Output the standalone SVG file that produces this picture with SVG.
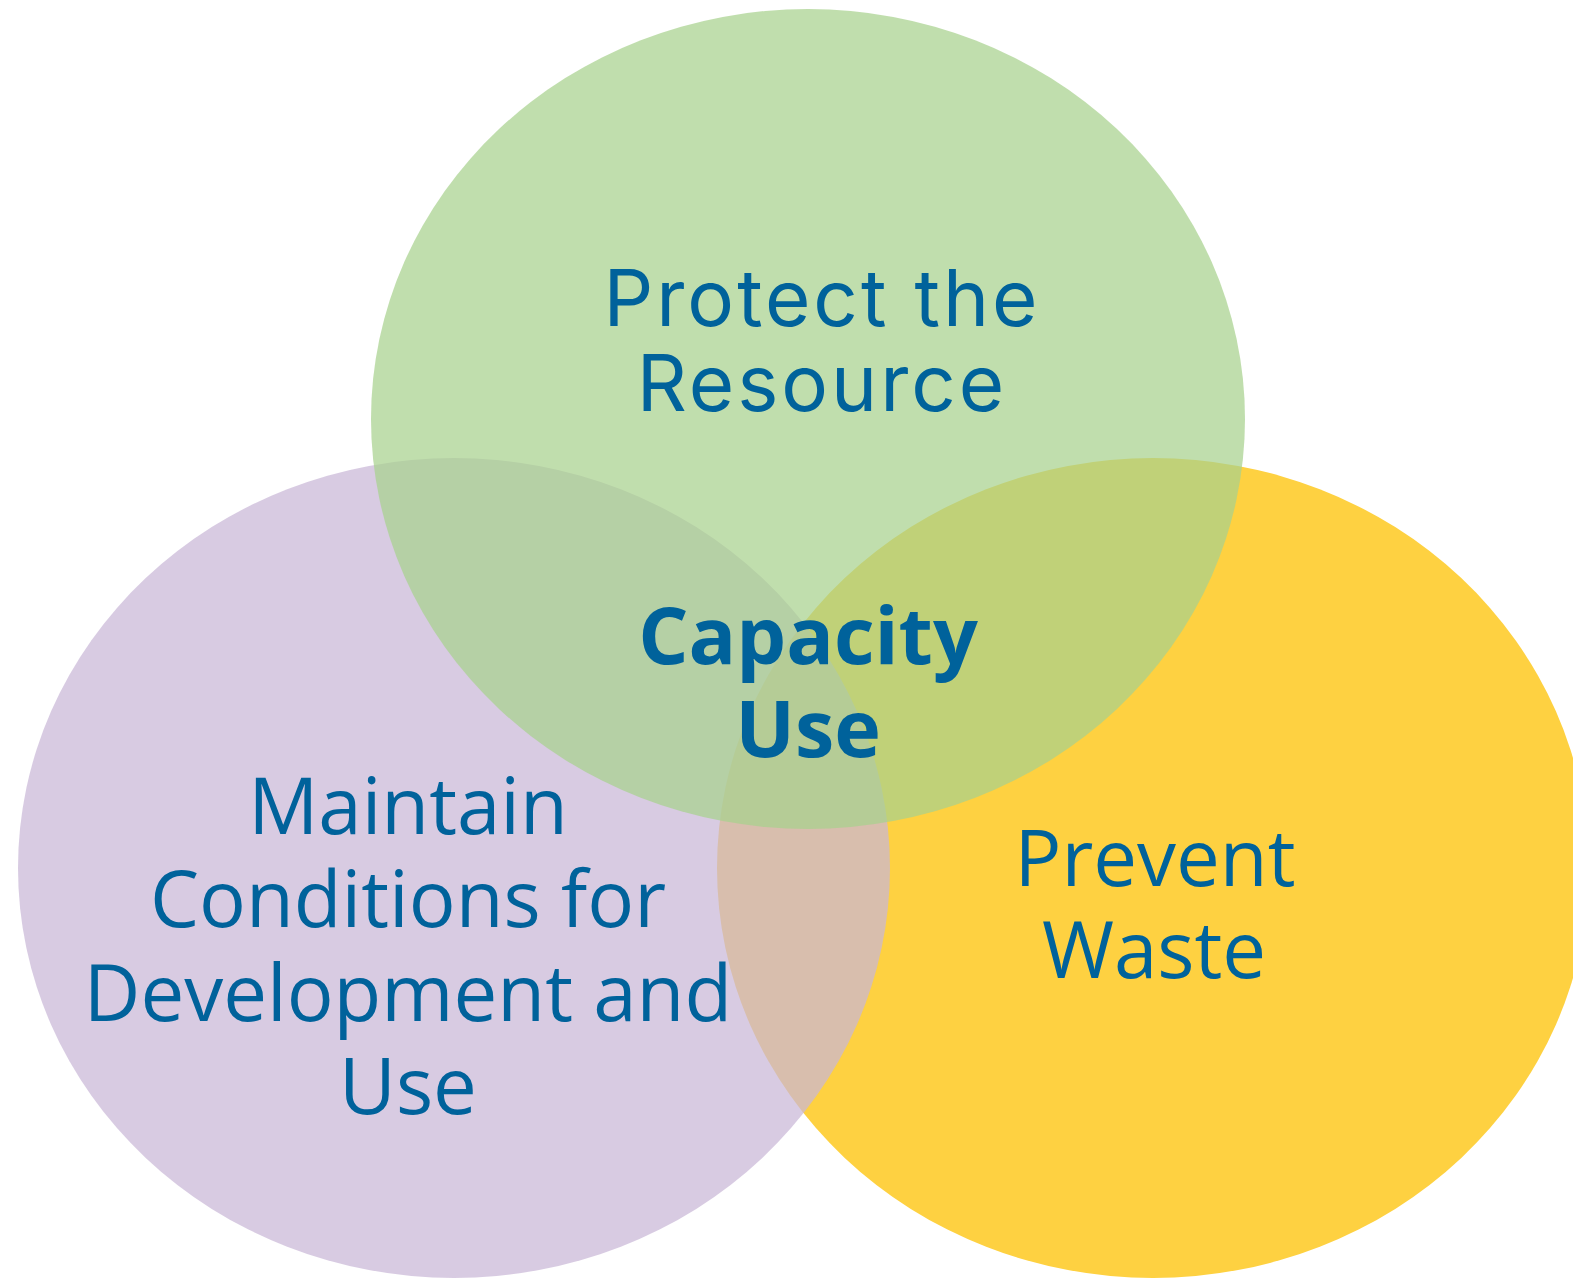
<svg xmlns="http://www.w3.org/2000/svg" width="1573" height="1278" viewBox="0 0 1573 1278">
<style>
.lbl{fill:#00629b;text-anchor:middle}
.os{font-family:"Open Sans","Noto Sans",sans-serif;font-size:78px}
.mt{font-family:Inter,"Open Sans",sans-serif;font-size:78px;font-weight:400;letter-spacing:3px}
.bold{font-family:"Open Sans","Noto Sans",sans-serif;font-size:79px;font-weight:700}
</style>
<rect width="1573" height="1278" fill="#ffffff"/>
<g id="prevent-waste">
<ellipse cx="1153" cy="868" rx="436" ry="410" fill="#fed141"/>
<text class="lbl os" x="1155" y="886">Prevent</text>
<text class="lbl os" x="1154" y="978">Waste</text>
</g>
<g id="maintain-conditions">
<ellipse cx="454" cy="868" rx="436" ry="410" fill="#c9b7d7" fill-opacity="0.72"/>
<text class="lbl os" x="408" y="834">Maintain</text>
<text class="lbl os" x="408" y="927">Conditions for</text>
<text class="lbl os" x="408" y="1021">Development and</text>
<text class="lbl os" x="408" y="1114">Use</text>
</g>
<g id="protect-resource">
<ellipse cx="808" cy="419" rx="437" ry="410" fill="#a7d18d" fill-opacity="0.72"/>
<text class="lbl mt" x="822" y="326">Protect the</text>
<text class="lbl mt" x="822" y="411">Resource</text>
</g>
<g id="capacity-use">
<text class="lbl bold" x="808" y="664">Capacity</text>
<text class="lbl bold" x="808" y="757">Use</text>
</g>
<g id="connectors"></g>
</svg>
